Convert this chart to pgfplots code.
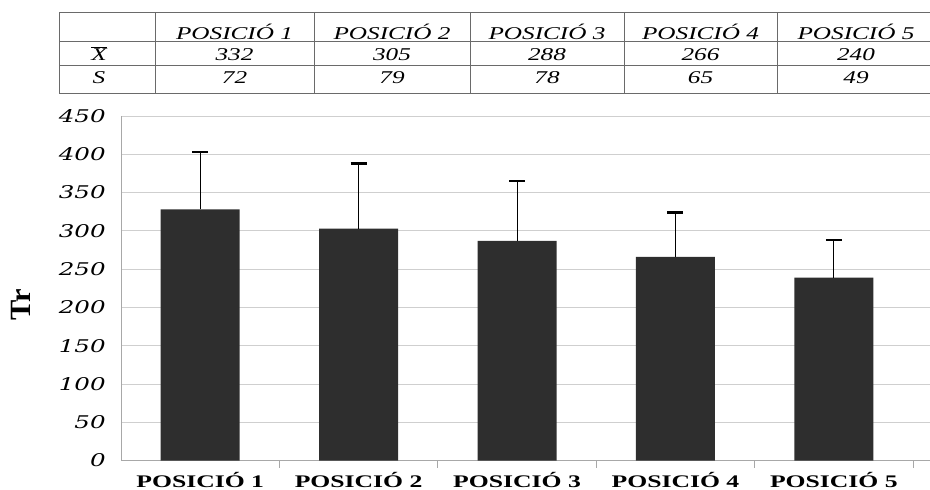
\documentclass[border=0pt]{standalone}
\usepackage{fontspec}
\setmainfont{Liberation Serif}
\newfontfamily\tabfont[FakeStretch=1.4]{Liberation Serif}
\newfontfamily\tickfont[FakeStretch=1.4]{DejaVu Serif}
\newfontfamily\labfont[FakeStretch=1.45]{Liberation Serif}
\usepackage{pgfplots}
\pgfplotsset{compat=1.18}
\definecolor{barc}{HTML}{2E2E2E}
\definecolor{gridc}{HTML}{CFCFCF}
\definecolor{axc}{HTML}{A8A8A8}
\definecolor{tabc}{HTML}{6A6A6A}
\begin{document}
\begin{tikzpicture}
\useasboundingbox (0pt,0pt) rectangle (930pt,-490pt);
% ---- table ----
\begin{scope}[draw=tabc, line width=0.8pt]
\foreach \y in {12.7,41,65,93} \draw (59pt,-\y pt) -- (940pt,-\y pt);
\foreach \x in {59,155,314,470,624,777} \draw (\x pt,-12.7pt) -- (\x pt,-93pt);
\end{scope}
\foreach \x/\t in {234.5/1,392/2,547/3,700.5/4,856/5}
  \node[anchor=base, inner sep=0pt, font=\tabfont\itshape\fontsize{18}{18}\selectfont] at (\x pt,-39pt) {POSICIÓ \t};
\foreach \x/\t in {234.5/332,392/305,547/288,700.5/266,856/240}
  \node[anchor=base, inner sep=0pt, font=\tabfont\itshape\fontsize{18}{18}\selectfont] at (\x pt,-60.5pt) {\t};
\foreach \x/\t in {234.5/72,392/79,547/78,700.5/65,856/49}
  \node[anchor=base, inner sep=0pt, font=\tabfont\itshape\fontsize{18}{18}\selectfont] at (\x pt,-83pt) {\t};
\node[anchor=base, inner sep=0pt] at (99pt,-60.5pt) {\(\overline{\hbox{\tabfont\itshape\fontsize{18}{18}\selectfont X}}\)};
\node[anchor=base, inner sep=0pt, font=\tabfont\itshape\fontsize{18}{18}\selectfont] at (99pt,-83pt) {S};
% ---- y label ----
\node[rotate=90, inner sep=0pt, font=\labfont\bfseries\fontsize{21}{21}\selectfont] at (21pt,-305pt) {\scalebox{1}[1.4]{Tr}};
% ---- chart ----
\begin{axis}[
  at={(121pt,-460.5pt)}, anchor=south west,
  scale only axis, width=809pt, height=344.5pt,
  xmin=-0.5, xmax=4.607, ymin=0, ymax=450,
  axis x line=bottom, axis y line=left,
  axis line style={draw=axc, line width=0.7pt, -},
  ytick={0,50,...,450},
  ymajorgrids, grid style={draw=gridc, line width=0.7pt},
  ytick style={draw=none},
  /pgf/number format/assume math mode=true,
  yticklabel style={font=\tickfont\itshape\fontsize{17.5}{17.5}\selectfont, anchor=east, inner sep=0pt, xshift=-13pt},
  xtick={0,1,2,3,4},
  xticklabels={POSICIÓ 1,POSICIÓ 2,POSICIÓ 3,POSICIÓ 4,POSICIÓ 5},
  xtick style={draw=none},
  xticklabel style={font=\labfont\bfseries\fontsize{17.7}{17.7}\selectfont, anchor=base, inner sep=0pt, yshift=-24.5pt},
  extra x ticks={0.5,1.5,2.5,3.5,4.5},
  extra x tick labels={},
  extra x tick style={major x tick style={draw=axc, line width=0.7pt}, major tick length=7pt, tick align=outside},
  clip=false,
]
\addplot[ybar, bar width=79pt, fill=barc, draw=none,
  error bars/.cd, y dir=plus, y explicit,
  error bar style={black, line width=0.9pt},
  error mark=|, error mark options={black, line width=2.5pt, mark size=8pt}]
  table[x=x, y=y, y error=e] {
  x y e
  0 328 75
  1 303 85
  2 287 78
  3 266 58
  4 239 49
  };
\end{axis}
\end{tikzpicture}
\end{document}
